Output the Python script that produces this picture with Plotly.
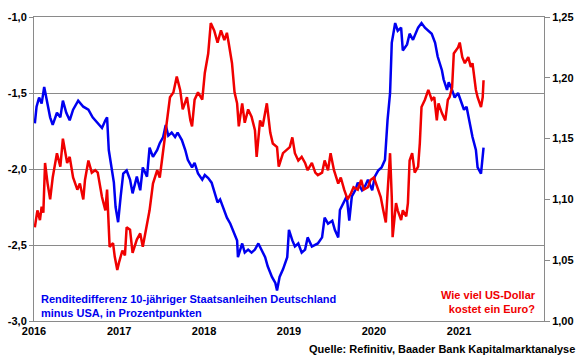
import plotly.graph_objects as go
import pandas as pd

# Yield spread 10y Germany minus USA (left axis), decimal year / value
spread_t = [2016.01, 2016.03, 2016.06, 2016.09, 2016.12, 2016.15, 2016.19, 2016.22, 2016.27, 2016.31,
            2016.34, 2016.38, 2016.42, 2016.46, 2016.52, 2016.58, 2016.64, 2016.69, 2016.75, 2016.80,
            2016.84, 2016.86, 2016.88, 2016.92, 2016.94, 2016.96, 2016.99, 2017.02, 2017.05, 2017.09,
            2017.13, 2017.16, 2017.21, 2017.25, 2017.28, 2017.33, 2017.36, 2017.40, 2017.45, 2017.48,
            2017.52, 2017.55, 2017.58, 2017.62, 2017.66, 2017.69, 2017.74, 2017.78, 2017.81, 2017.86,
            2017.89, 2017.93, 2017.98, 2018.01, 2018.05, 2018.09, 2018.13, 2018.16, 2018.19, 2018.24,
            2018.27, 2018.31, 2018.34, 2018.39, 2018.40, 2018.45, 2018.48, 2018.52, 2018.56, 2018.60,
            2018.64, 2018.68, 2018.72, 2018.75, 2018.80, 2018.84, 2018.86, 2018.89, 2018.93, 2018.98,
            2019.00, 2019.04, 2019.07, 2019.11, 2019.15, 2019.19, 2019.22, 2019.27, 2019.31, 2019.34,
            2019.39, 2019.42, 2019.46, 2019.51, 2019.54, 2019.58, 2019.60, 2019.64, 2019.68, 2019.71,
            2019.74, 2019.78, 2019.81, 2019.86, 2019.89, 2019.93, 2019.98, 2020.01, 2020.05, 2020.09,
            2020.13, 2020.16, 2020.19, 2020.21, 2020.25, 2020.28, 2020.32, 2020.34, 2020.39, 2020.42,
            2020.46, 2020.52, 2020.56, 2020.60, 2020.64, 2020.68, 2020.72, 2020.75, 2020.80, 2020.82,
            2020.86, 2020.88, 2020.92, 2020.95, 2020.99, 2021.04, 2021.06, 2021.09, 2021.13, 2021.16,
            2021.20, 2021.22, 2021.26, 2021.27, 2021.29]
spread_v = [-1.70, -1.59, -1.53, -1.57, -1.46, -1.55, -1.66, -1.71, -1.63, -1.66,
            -1.55, -1.63, -1.68, -1.61, -1.55, -1.59, -1.61, -1.66, -1.70, -1.73,
            -1.68, -1.66, -1.875, -2.03, -2.09, -2.25, -2.35, -2.18, -2.03, -2.01,
            -2.07, -2.16, -2.05, -2.14, -1.99, -2.05, -1.86, -1.92, -1.875, -1.83,
            -1.79, -1.71, -1.78, -1.76, -1.79, -1.76, -1.81, -1.875, -1.94, -1.99,
            -1.96, -2.03, -2.07, -2.04, -2.06, -2.09, -2.16, -2.22, -2.20, -2.27,
            -2.32, -2.36, -2.40, -2.47, -2.58, -2.49, -2.55, -2.53, -2.55, -2.53,
            -2.49, -2.53, -2.58, -2.64, -2.71, -2.75, -2.80, -2.71, -2.66, -2.58,
            -2.40, -2.47, -2.51, -2.49, -2.55, -2.53, -2.45, -2.51, -2.50, -2.49,
            -2.45, -2.32, -2.36, -2.34, -2.40, -2.45, -2.27, -2.22, -2.18, -2.34,
            -2.18, -2.14, -2.09, -2.14, -2.12, -2.07, -2.14, -2.05, -2.01, -1.99,
            -1.94, -1.68, -1.50, -1.17, -1.04, -1.09, -1.07, -1.22, -1.18, -1.11,
            -1.15, -1.07, -1.04, -1.07, -1.09, -1.11, -1.17, -1.26, -1.35, -1.41,
            -1.48, -1.43, -1.48, -1.53, -1.50, -1.59, -1.61, -1.59, -1.70, -1.79,
            -1.875, -1.99, -2.03, -1.96, -1.86]

# EUR/USD (right axis)
eurusd_t = [2016.01, 2016.04, 2016.07, 2016.09, 2016.11, 2016.13, 2016.16, 2016.19, 2016.22, 2016.27,
            2016.31, 2016.34, 2016.39, 2016.42, 2016.46, 2016.51, 2016.54, 2016.58, 2016.60, 2016.64,
            2016.68, 2016.72, 2016.75, 2016.80, 2016.84, 2016.86, 2016.89, 2016.93, 2016.95, 2016.98,
            2017.00, 2017.04, 2017.07, 2017.09, 2017.13, 2017.16, 2017.21, 2017.25, 2017.28, 2017.33,
            2017.36, 2017.40, 2017.45, 2017.48, 2017.52, 2017.56, 2017.60, 2017.64, 2017.68, 2017.72,
            2017.75, 2017.80, 2017.84, 2017.86, 2017.89, 2017.93, 2017.98, 2018.01, 2018.05, 2018.08,
            2018.12, 2018.16, 2018.20, 2018.24, 2018.27, 2018.29, 2018.33, 2018.36, 2018.39, 2018.41,
            2018.45, 2018.48, 2018.52, 2018.56, 2018.60, 2018.62, 2018.66, 2018.69, 2018.74, 2018.78,
            2018.81, 2018.86, 2018.88, 2018.93, 2018.98, 2019.01, 2019.04, 2019.07, 2019.11, 2019.15,
            2019.19, 2019.22, 2019.27, 2019.31, 2019.34, 2019.39, 2019.42, 2019.46, 2019.49, 2019.53,
            2019.58, 2019.61, 2019.65, 2019.69, 2019.73, 2019.76, 2019.81, 2019.85, 2019.88, 2019.93,
            2019.96, 2020.00, 2020.05, 2020.08, 2020.11, 2020.14, 2020.16, 2020.19, 2020.21, 2020.22,
            2020.26, 2020.28, 2020.32, 2020.34, 2020.38, 2020.40, 2020.42, 2020.45, 2020.48, 2020.52,
            2020.54, 2020.56, 2020.60, 2020.64, 2020.68, 2020.71, 2020.74, 2020.76, 2020.80, 2020.84,
            2020.87, 2020.89, 2020.92, 2020.94, 2020.99, 2021.01, 2021.04, 2021.07, 2021.11, 2021.14,
            2021.16, 2021.20, 2021.22, 2021.26, 2021.28, 2021.29]
eurusd_v = [1.077, 1.091, 1.083, 1.094, 1.089, 1.130, 1.113, 1.100, 1.118, 1.138,
            1.127, 1.150, 1.130, 1.135, 1.118, 1.108, 1.113, 1.100, 1.116, 1.132,
            1.122, 1.124, 1.122, 1.102, 1.091, 1.108, 1.061, 1.064, 1.053, 1.042,
            1.048, 1.058, 1.054, 1.077, 1.075, 1.056, 1.067, 1.072, 1.061, 1.081,
            1.091, 1.113, 1.124, 1.118, 1.141, 1.165, 1.184, 1.188, 1.201, 1.190,
            1.174, 1.184, 1.165, 1.160, 1.182, 1.188, 1.182, 1.204, 1.220, 1.245,
            1.239, 1.229, 1.239, 1.231, 1.237, 1.229, 1.212, 1.188, 1.179, 1.160,
            1.179, 1.163, 1.174, 1.168, 1.157, 1.135, 1.165, 1.160, 1.179, 1.155,
            1.146, 1.143, 1.127, 1.138, 1.141, 1.143, 1.151, 1.138, 1.132, 1.135,
            1.130, 1.124, 1.130, 1.122, 1.120, 1.122, 1.132, 1.124, 1.138, 1.124,
            1.113, 1.118, 1.108, 1.100, 1.105, 1.110, 1.108, 1.116, 1.108, 1.110,
            1.116, 1.118, 1.108, 1.102, 1.091, 1.081, 1.105, 1.138, 1.102, 1.069,
            1.097, 1.091, 1.083, 1.091, 1.086, 1.097, 1.132, 1.138, 1.122, 1.127,
            1.146, 1.176, 1.182, 1.190, 1.182, 1.184, 1.165, 1.179, 1.171, 1.165,
            1.182, 1.184, 1.192, 1.220, 1.225, 1.229, 1.217, 1.212, 1.217, 1.209,
            1.212, 1.190, 1.184, 1.176, 1.184, 1.198]

year_ticks = ["2016", "2017", "2018", "2019", "2020", "2021"]
left_ticks = [-3.0, -2.5, -2.0, -1.5, -1.0]
left_labels = ["-3,0", "-2,5", "-2,0", "-1,5", "-1,0"]
right_ticks = [1.00, 1.05, 1.10, 1.15, 1.20, 1.25]
right_labels = ["1,00", "1,05", "1,10", "1,15", "1,20", "1,25"]


def to_dates(years):
    base = pd.Timestamp("2016-01-01")
    return [base + pd.Timedelta(days=(y - 2016) * 365.25) for y in years]


FONT = "Liberation Sans, Arial, sans-serif"
GRID = "#8a8a8a"
TICKFONT = dict(family=FONT, size=11, color="black", weight="bold")

fig = go.Figure()
fig.add_trace(go.Scatter(x=to_dates(spread_t), y=spread_v, mode="lines",
                         line=dict(color="#0000f0", width=2.5), yaxis="y"))
fig.add_trace(go.Scatter(x=to_dates(eurusd_t), y=eurusd_v, mode="lines",
                         line=dict(color="#f00000", width=2.5), yaxis="y2"))

fig.update_layout(
    width=580, height=359, autosize=False,
    margin=dict(l=34, r=36, t=17, b=38),
    paper_bgcolor="white", plot_bgcolor="white",
    showlegend=False,
    font=dict(family=FONT, size=11, color="black"),
    xaxis=dict(type="date", range=["2016-01-01", "2022-01-01"],
               tickvals=[pd.Timestamp(y + "-01-01") for y in year_ticks], ticktext=year_ticks,
               showgrid=False, showline=True, linecolor=GRID, linewidth=1,
               mirror=True, ticks="", zeroline=False, automargin=False,
               tickfont=TICKFONT),
    yaxis=dict(range=[-3, -1], tickvals=left_ticks, ticktext=left_labels,
               showgrid=True, gridcolor=GRID, gridwidth=1,
               showline=True, linecolor=GRID, linewidth=1, automargin=False,
               ticks="outside", ticklen=4, tickcolor=GRID, zeroline=False,
               tickfont=TICKFONT),
    yaxis2=dict(range=[1.0, 1.25], tickvals=right_ticks, ticktext=right_labels,
                overlaying="y", side="right", showgrid=False, automargin=False,
                showline=True, linecolor=GRID, linewidth=1,
                ticks="outside", ticklen=5, tickcolor=GRID, zeroline=False,
                tickfont=TICKFONT),
)

fig.add_annotation(xref="paper", yref="paper", x=0.0098, y=0.049,
                   xanchor="left", yanchor="middle", align="left", showarrow=False,
                   text="Renditedifferenz 10-jähriger Staatsanleihen Deutschland<br>minus USA, in Prozentpunkten",
                   font=dict(family=FONT, size=11, color="#0000f0", weight="bold"))
fig.add_annotation(xref="paper", yref="paper", x=0.988, y=0.061,
                   xanchor="right", yanchor="middle", align="right", showarrow=False,
                   text="Wie viel US-Dollar<br>kostet ein Euro?",
                   font=dict(family=FONT, size=11, color="#f00000", weight="bold"))
fig.add_annotation(xref="paper", yref="paper", x=1.0647, y=-0.092,
                   xanchor="right", yanchor="middle", showarrow=False,
                   text="Quelle: Refinitiv, Baader Bank Kapitalmarktanalyse",
                   font=dict(family=FONT, size=11, color="black", weight="bold"))

fig.write_html("out.html", config={"displayModeBar": False},
               post_script="document.body.style.margin='0';")
